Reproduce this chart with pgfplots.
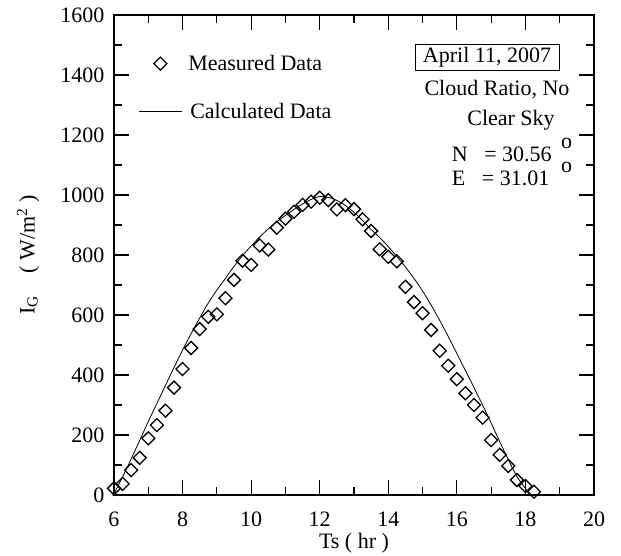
\documentclass[border=0pt]{standalone}
\usepackage{fontspec}
\setmainfont{Liberation Serif}
\usepackage{pgfplots}
\pgfplotsset{compat=1.18}
\pgfplotstableread{
x y
6.0 22
6.25 37
6.5 83
6.75 124
7.0 189
7.25 233
7.5 281
7.75 358
8.0 420
8.25 490
8.5 553
8.75 594
9.0 602
9.25 656
9.5 717
9.75 781
10.0 767
10.25 832
10.5 818
10.75 891
11.0 921
11.25 944
11.5 967
11.75 978
12.0 991
12.25 983
12.5 952
12.75 966
13.0 953
13.25 919
13.5 880
13.75 819
14.0 794
14.25 779
14.5 694
14.75 643
15.0 606
15.25 550
15.5 481
15.75 431
16.0 386
16.25 339
16.5 300
16.75 258
17.0 183
17.25 134
17.5 97
17.75 50
18.0 30
18.25 11
}\measured
\pgfplotstableread{
x y
5.97 0
6.0 5
6.25 60
6.5 120
6.75 182
7.0 245
7.25 305
7.5 365
7.75 425
8.0 483
8.25 538
8.5 590
8.75 640
9.0 683
9.25 722
9.5 762
9.75 798
10.0 830
10.25 860
10.5 887
10.75 911
11.0 932
11.25 952
11.5 970
11.75 985
12.0 995
12.25 992
12.5 982
12.75 965
13.0 942
13.25 915
13.5 885
13.75 858
14.0 828
14.25 795
14.5 760
14.75 722
15.0 680
15.25 633
15.5 582
15.75 528
16.0 472
16.25 415
16.5 358
16.75 300
17.0 240
17.25 178
17.5 118
17.75 62
18.0 22
18.15 3
}\calculated
\begin{document}
\begin{tikzpicture}
\begin{axis}[
  scale only axis, width=480pt, height=480pt,
  xmin=6, xmax=20, ymin=0, ymax=1600,
  xtick={6,8,...,20}, ytick={0,200,...,1600},
  minor x tick num=1, minor y tick num=1,
  tick align=inside,
  major tick length=15pt, minor tick length=8pt,
  axis line style={line width=1.2pt},
  every tick/.style={black, line width=1.2pt},
  font=\fontsize{22}{26}\selectfont,
  /pgf/number format/assume math mode=true,
  /pgf/number format/1000 sep={},
  xticklabel style={yshift=-13pt},
  yticklabel style={xshift=-6pt},
  xlabel={Ts ( hr )},
  ylabel={I\textsubscript{G}\quad( W/m\textsuperscript{2} )},
  xlabel style={at={(axis description cs:0.5,-0.1)}, anchor=center},
  ylabel style={at={(axis description cs:-0.179,0.5)}, anchor=center},
  legend style={at={(axis cs:6.62,1480)}, anchor=north west, draw=none, fill=none,
    row sep=27pt, font=\fontsize{22}{26}\selectfont},
  legend cell align=left,
  clip=false,
]
\addplot[only marks, mark=square, mark size=4.6pt,
  mark options={rotate=45, line width=1.3pt, black},
  legend image code/.code={\draw[only marks, mark=square, mark size=4.6pt, mark options={rotate=45, line width=1.3pt, black}] plot coordinates {(21.5pt,0pt)};}]
  table {\measured};
\addlegendentry{\hspace{4pt}Measured Data}
\addplot[black, line width=0.8pt, smooth, tension=0.5,
  legend image code/.code={\draw[black, line width=0.8pt] (0pt,0pt) -- (43pt,0pt);}]
  table {\calculated};
\addlegendentry{\hspace{6pt}Calculated Data}
\node[draw, line width=0.6pt, inner xsep=8pt, inner ysep=3pt] at (axis cs:16.88,1460) {April 11, 2007};
\node at (axis cs:17.17,1350) {Cloud Ratio, No};
\node at (axis cs:17.58,1250) {Clear Sky};
\node[anchor=west, inner sep=0pt] at (axis cs:15.85,1137) {N\ \ \ = 30.56};
\node[anchor=west, inner sep=0pt] at (axis cs:15.85,1057) {E\ \ \ = 31.01};
\node at (axis cs:19.2,1173) {o};
\node at (axis cs:19.2,1093) {o};
\end{axis}
\pgfresetboundingbox
\path[use as bounding box] (-114pt,-60pt) rectangle (507pt,495pt);
\end{tikzpicture}
\end{document}
